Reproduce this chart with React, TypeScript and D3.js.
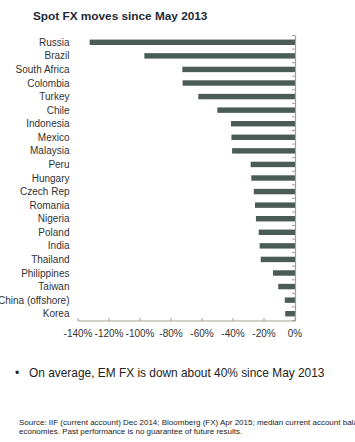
import React from "react";
import * as d3 from "d3";

const countries = [
  "Russia", "Brazil", "South Africa", "Colombia", "Turkey", "Chile", "Indonesia",
  "Mexico", "Malaysia", "Peru", "Hungary", "Czech Rep", "Romania", "Nigeria",
  "Poland", "India", "Thailand", "Philippines", "Taiwan", "China (offshore)", "Korea",
];
const moves = [
  -132.5, -97.2, -72.7, -72.5, -62.4, -50.1, -41.3,
  -41.0, -40.6, -28.6, -28.2, -26.6, -25.8, -25.2,
  -23.4, -22.8, -22.1, -14.2, -10.8, -6.6, -6.3,
];
const xTicks = [-140, -120, -100, -80, -60, -40, -20, 0];

const title = "Spot FX moves since May 2013";
const bullet = "On average, EM FX is down about 40% since May 2013";
const sourceLines = [
  "Source:  IIF (current account) Dec 2014; Bloomberg (FX) Apr 2015; median current account balance",
  "economies. Past performance is no guarantee of future results.",
];

export default function App() {
  const W = 355, H = 442;
  const x = d3.scaleLinear().domain([-140, 0]).range([78, 295]);
  const y = d3.scaleBand<string>().domain(countries).range([35.5, 320.5]).paddingInner(0.6).paddingOuter(0.3);
  const step = y.step();
  const top = 35.5, bottom = 320.5;
  const axisColor = "#a79f94";
  const font = "Liberation Sans, Arial, sans-serif";
  return (
    <svg width={W} height={H} style={{ position: "absolute", left: 0, top: 0, background: "#fff" }} fontFamily={font}>
      <text x={33} y={20} fontSize={11.8} fontWeight="bold" fill="#1f2937">{title}</text>
      {countries.map((c, i) => (
        <g key={c}>
          <rect x={x(moves[i])} y={y(c)!} width={x(0) - x(moves[i])} height={y.bandwidth()} fill="#4b5c57" />
          <text x={69.5} y={y(c)! + y.bandwidth() / 2} dy="0.35em" textAnchor="end" fontSize={10} fill="#333">{c}</text>
        </g>
      ))}
      {d3.range(countries.length + 1).map((i) => (
        <line key={i} x1={x(0) - 3} x2={x(0)} y1={top + i * step} y2={top + i * step} stroke={axisColor} strokeWidth={1} />
      ))}
      <line x1={x(0) + 0.5} x2={x(0) + 0.5} y1={top} y2={bottom + 0.5} stroke={axisColor} strokeWidth={1.2} />
      <line x1={x(-140)} x2={x(0) + 1} y1={bottom + 0.5} y2={bottom + 0.5} stroke={axisColor} strokeWidth={1.2} />
      {xTicks.map((t) => (
        <g key={t}>
          <line x1={x(t)} x2={x(t)} y1={bottom + 0.5} y2={bottom - 2.5} stroke={axisColor} />
          <text x={x(t)} y={336.5} textAnchor="middle" fontSize={10} fill="#333">{t + "%"}</text>
        </g>
      ))}
      <text x={15} y={376.5} fontSize={12} fill="#222">•</text>
      <text x={29} y={376.5} fontSize={11.9} fill="#222">{bullet}</text>
      {sourceLines.map((s, i) => (
        <text key={i} x={19} y={424.5 + i * 9} fontSize={8} fill="#222">{s}</text>
      ))}
    </svg>
  );
}
